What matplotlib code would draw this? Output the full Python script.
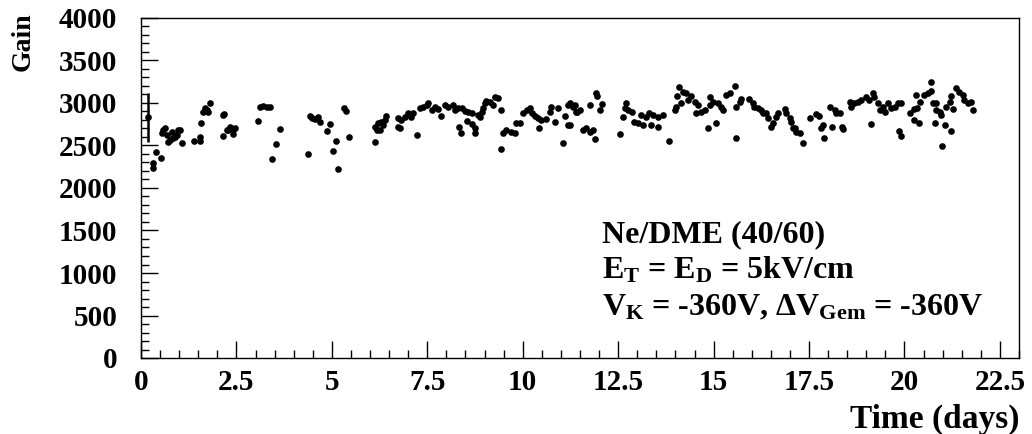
import matplotlib
matplotlib.use("Agg")
import matplotlib.pyplot as plt
from matplotlib.ticker import MultipleLocator, FormatStrFormatter

plt.rcParams["font.family"] = "Liberation Serif"
plt.rcParams["font.weight"] = "bold"
plt.rcParams["mathtext.fontset"] = "custom"
plt.rcParams["mathtext.rm"] = "Liberation Serif:bold"
plt.rcParams["mathtext.it"] = "Liberation Serif:bold"
plt.rcParams["mathtext.bf"] = "Liberation Serif:bold"

# first measurement, drawn with its error bar
first_day = 0.19
first_gain = 2831
first_err_low = 293
first_err_high = 290

# remaining measurements (time in days, gain)
days = [
    0.39, 0.32, 0.32, 0.52, 0.58, 0.63, 0.55, 0.67, 0.72, 0.80, 0.85, 0.93, 0.98, 1.02, 1.07, 0.76, 0.89,
    1.39, 1.54, 1.54, 1.57, 1.63, 1.72, 1.81, 1.76, 1.68, 2.14, 2.18, 2.14, 2.29, 2.33, 2.37, 2.42, 2.42,
    2.24, 2.46, 3.07, 3.13, 3.20, 3.29, 3.38, 3.42, 3.53, 3.64, 4.38, 4.42, 4.47, 4.56, 4.64, 4.69, 4.86,
    4.95, 5.02, 5.10, 5.16, 5.31, 5.37, 5.44,
    6.13, 6.13, 6.17, 6.21, 6.30, 6.34, 6.26, 6.39, 6.41, 6.74, 6.74, 6.78, 6.82, 6.91, 6.99, 7.04, 7.08,
    7.13, 7.23, 7.30, 7.39, 7.48, 7.52, 7.61, 7.70, 7.78, 7.87, 7.96, 8.05, 8.18, 8.22, 8.31, 8.40, 8.48,
    8.57, 8.66, 8.33, 8.38, 8.53, 8.66, 8.75, 8.75, 8.83, 8.88, 8.92, 8.96, 9.01, 9.05, 9.14, 9.22, 9.27,
    9.35, 9.44, 9.43, 9.48, 9.57, 9.70, 9.79, 9.83, 9.92, 10.01, 10.10, 10.18, 10.23, 10.31, 10.40, 10.49,
    10.62, 10.43, 10.71, 10.75, 10.84, 10.93, 11.05, 11.10, 11.19, 11.19, 11.32, 11.41,
    11.23, 11.36, 11.40, 11.49, 11.23, 11.58, 11.67, 11.75, 11.84, 11.88, 11.75, 11.93, 11.95, 12.02,
    12.08, 12.56, 12.63, 12.67, 12.71, 12.76, 12.85, 12.91, 13.02, 13.11, 13.15, 13.24, 13.32, 13.37,
    13.41, 13.54, 13.54, 13.67, 13.82, 13.98, 14.02, 14.04, 14.09, 14.15, 14.20, 14.28, 14.33, 14.42,
    14.50, 14.59, 14.55, 14.68, 14.77, 14.85, 14.90, 14.90, 14.98, 15.07, 15.11, 15.20, 15.24, 15.33,
    15.42, 15.55, 15.58, 15.59, 15.68, 15.73, 15.94, 16.03, 16.07, 16.16, 16.25, 16.29, 16.38, 16.42,
    16.51, 16.55, 16.64, 16.68, 16.86, 16.90, 16.99, 17.03, 17.08, 17.16, 17.25,
    17.12, 17.34, 17.53, 17.69, 17.76, 17.82, 17.86, 17.88, 18.04, 18.10, 18.17, 18.21, 18.30, 18.37,
    18.39, 18.56, 18.60, 18.69, 18.78, 18.87, 19.00, 19.08, 19.17, 19.21, 19.13, 19.30, 19.35, 19.43,
    19.48, 19.56, 19.65, 19.74, 19.82, 19.91, 19.85, 19.91, 20.15, 20.24, 20.24, 20.32, 20.39, 20.29,
    20.41, 20.52, 20.61, 20.70, 20.70, 20.74, 20.83, 20.79, 20.83, 20.92, 20.96, 20.99, 21.05, 21.09,
    21.18, 21.22, 21.22, 21.26, 21.35, 21.44, 21.53, 21.57, 21.66, 21.75, 21.79,
]
gain = [
    2427, 2290, 2239, 2353, 2682, 2702, 2651, 2624, 2545, 2663, 2584, 2624, 2682, 2682, 2525, 2565, 2604,
    2557, 2557, 2596, 2761, 2898, 2918, 2996, 2898, 2937, 2859, 2867, 2616, 2682, 2722, 2702, 2682, 2635,
    2682, 2702, 2792, 2949, 2965, 2957, 2957, 2337, 2518, 2690, 2396, 2847, 2820, 2808, 2831, 2780, 2675,
    2749, 2439, 2557, 2224, 2937, 2910, 2600,
    2537, 2722, 2682, 2761, 2780, 2741, 2682, 2800, 2847, 2820, 2722, 2702, 2800, 2839, 2878, 2859, 2839,
    2886, 2624, 2937, 2957, 2976, 2996, 2918, 2957, 2929, 2847, 2976, 2957, 2976, 2918, 2937, 2937, 2910,
    2898, 2878, 2714, 2651, 2792, 2753, 2702, 2651, 2859, 2831, 2898, 2937, 2996, 3027, 3016, 2976, 3075,
    3055, 2918, 2455, 2643, 2682, 2663, 2651, 2761, 2769, 2878, 2918, 2937, 2878, 2847, 2820, 2800,
    2808, 2702, 2898, 2957, 2780, 2937, 2533, 2847, 2741, 2976, 2957, 2898,
    2996, 2976, 2898, 2918, 2741, 2682, 2702, 2663, 2682, 2573, 2976, 3121, 3082, 2918,
    2984, 2635, 2839, 2937, 2996, 2918, 2898, 2780, 2761, 2859, 2741, 2839, 2878, 2741,
    2859, 2722, 2839, 2859, 2557, 2918, 2957, 3082, 3192, 2996, 3133, 3114, 3035, 3082,
    3016, 2976, 2878, 2898, 2918, 2702, 3067, 2976, 3016, 2769, 2996, 2957, 2918, 3094,
    3114, 3200, 2584, 2957, 3016, 3043, 3043, 2996, 2957, 2937, 2918, 2878, 2878, 2820,
    2722, 2761, 2839, 2878, 2925, 2878, 2820, 2780, 2702, 2663, 2643,
    2702, 2533, 2820, 2871, 2847, 2702, 2741, 2584, 2957, 2722, 2918, 2886, 2878, 2722,
    2690, 3016, 2957, 2996, 3016, 3035, 3075, 3035, 3114, 3075, 2749, 2996, 2918, 2957,
    2898, 2996, 2937, 2957, 2996, 2996, 2675, 2612, 2886, 2925, 2800, 2937, 2769, 3094,
    3016, 3094, 3114, 3145, 3251, 2996, 3004, 2769, 2918, 2898, 2859, 2494, 2741, 2957,
    3016, 3082, 2675, 2925, 3172, 3133, 3094, 3035, 2996, 3016, 2918,
]

fig = plt.figure(figsize=(10.32, 4.34), dpi=100)
ax = fig.add_axes([141 / 1032, 1 - 358 / 434, 878 / 1032, 340 / 434])

ax.plot(days, gain, "o", color="black", markersize=4.8, markeredgewidth=0)
ax.errorbar([first_day], [first_gain], yerr=[[first_err_low], [first_err_high]],
            fmt="o", color="black", markersize=4.8, markeredgewidth=0, elinewidth=1.8, capsize=0)

ax.set_xlim(0, 23)
ax.set_ylim(0, 4000)
ax.xaxis.set_major_locator(MultipleLocator(2.5))
ax.xaxis.set_minor_locator(MultipleLocator(0.5))
ax.yaxis.set_major_locator(MultipleLocator(500))
ax.yaxis.set_minor_locator(MultipleLocator(100))
ax.xaxis.set_major_formatter(FormatStrFormatter("%g"))
ax.tick_params(which="both", direction="in", top=False, right=False, labelsize=21, width=1)
ax.tick_params(axis="y", which="major", length=12, pad=17)
ax.tick_params(axis="y", which="minor", length=6)
ax.tick_params(axis="x", which="major", length=12, pad=8)
ax.tick_params(axis="x", which="minor", length=6)
for sp in ax.spines.values():
    sp.set_linewidth(1)

fig.text(23 / 1032, 1 - 12 / 434, "Gain", rotation=90, ha="center", va="top", fontsize=20)
fig.text(1020 / 1032, 1 - 428 / 434, "Time (days)", ha="right", va="baseline", fontsize=24)

ax.text(12.07, 1368, "Ne/DME (40/60)", fontsize=23, va="baseline")
ax.text(12.07, 941, r"E$_\mathrm{T}$ = E$_\mathrm{D}$ = 5kV/cm", fontsize=23, va="baseline")
ax.text(12.07, 506, r"V$_\mathrm{K}$ = -360V, ΔV$_\mathrm{Gem}$ = -360V", fontsize=23, va="baseline")

fig.savefig("out.png", dpi=100)
